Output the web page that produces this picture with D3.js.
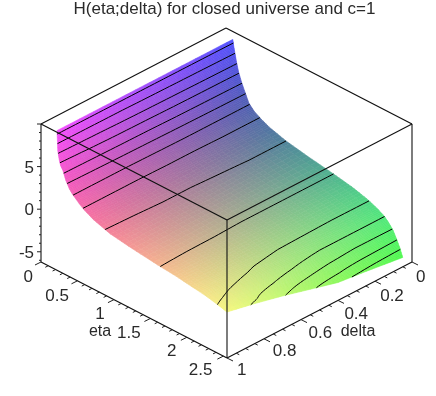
<!DOCTYPE html>
<meta charset="utf-8">
<head>
<style>
body { margin: 0; background: #fff; }
svg { filter: blur(0.35px); }
text { font-family: "Liberation Sans", Arial, sans-serif; fill: #2a2a2a; }
</style>
</head>
<body>
<svg width="436" height="396"></svg>
<script src="https://d3js.org/d3.v7.min.js"></script>
<script>
var title = "H(eta;delta) for closed universe and c=1";

// surface heights, one row per delta
var etas = [.22,.23,.25,.27,.30,.34,.39,.44,.52,.60,.72,.95,1.25,1.6,1.85,2.06,2.2,2.3,2.36,2.42,2.47,2.51,2.55];
var deltas = [.05,.25,.4,.55,.7,.85,1];
var zDelta05 = [10.2,9.6,8.7,7.8,6.7,5.7,4.7,3.7,3.0,2.6,2.1,1.5,1.0,.5,.1,-.4,-.9,-1.4,-1.9,-2.55,-3.4,-4.15,-5.1];
var zDelta25 = [10.2,9.3,8.4,7.6,6.6,5.6,4.6,3.7,3.0,2.6,2.05,1.5,1.0,.5,.1,-.42,-.85,-1.4,-1.9,-2.6,-3.15,-3.9,-4.5];
var zDelta40 = [10.2,9.1,8.2,7.4,6.5,5.5,4.5,3.7,3.0,2.55,2.05,1.45,.95,.5,.1,-.4,-.8,-1.4,-1.75,-2.3,-2.95,-3.3,-4.1];
var zDelta55 = [10.2,8.9,8,7.2,6.3,5.3,4.4,3.65,3.0,2.55,2,1.4,.95,.5,.12,-.38,-.75,-1.2,-1.45,-1.8,-2.35,-2.85,-3.2];
var zDelta70 = [10.2,8.6,7.7,7,6.2,5.2,4.3,3.6,3,2.5,2,1.4,.95,.52,.15,-.25,-.6,-.95,-1.15,-1.4,-1.75,-2,-2.3];
var zDelta85 = [10.2,8.3,7.3,6.7,6.05,5.05,4.2,3.6,3,2.5,1.95,1.35,.9,.52,.25,-.1,-.3,-.6,-.75,-.95,-1.15,-1.25,-1.5];
var zDelta100 = [10.2,7.9,6.9,6.3,5.9,4.9,4.1,3.6,3,2.5,1.95,1.3,.9,.53,.32,.05,-.1,-.25,-.37,-.5,-.6,-.7,-.8];
var zRows = [zDelta05,zDelta25,zDelta40,zDelta55,zDelta70,zDelta85,zDelta100];

var levels = [9.8,8.7,7.6,6.6,5.6,4.6,3.6,2.65,1.5,.5,-.5,-1.4,-2.4,-3.4,-4.3];

var etaTicks = [0,.5,1,1.5,2,2.5];
var deltaTicks = [0,.2,.4,.6,.8,1];
var zTicks = [-5,0,5];

var etaMax = 2.55, zMin = -6.2, zMax = 10;

var svg = d3.select("svg");

// oblique view: every screen position is the sum of three scales
var xEta = d3.scaleLinear().domain([0,etaMax]).range([0,186]);
var yEta = d3.scaleLinear().domain([0,etaMax]).range([0,96]);
var xDelta = d3.scaleLinear().domain([1,0]).range([41,226]);
var yDelta = d3.scaleLinear().domain([1,0]).range([0,-96]);
var yZ = d3.scaleLinear().domain([zMin,zMax]).range([262,124]);

function px(eta,delta) { return xEta(eta)+xDelta(delta); }
function py(eta,delta,z) { return yEta(eta)+yDelta(delta)+yZ(z); }

// height lookup along each row, and across rows
var rowScales = zRows.map(function(row) { return d3.scaleLinear().domain(etas).range(row); });
function height(eta,delta) {
  var across = d3.scaleLinear().domain(deltas).range(rowScales.map(function(s) { return s(eta); }));
  return across(delta);
}

// xyz shading: red follows delta, green follows eta, blue follows height
var red = d3.scaleLinear().domain([deltas[0],1]).range([80,245]);
var grn = d3.scaleLinear().domain([etas[0],etaMax]).range([80,248]);
var blu = d3.scaleLinear().domain([-5.1,10.2]).range([80,255]);
function shade(eta,delta,z) { return d3.rgb(red(delta),grn(eta),blu(z)).formatHex(); }

// drawing mesh, finer than the table
function refine(list,steps) {
  var out = [];
  d3.pairs(list).forEach(function(p) {
    d3.range(steps).forEach(function(k) { out.push(p[0]+(p[1]-p[0])*k/steps); });
  });
  out.push(list[list.length-1]);
  return out;
}
var etaMesh = refine(etas,6), deltaMesh = refine(deltas,6);
var meshIndexEta = d3.scaleLinear().domain(d3.range(etaMesh.length)).range(etaMesh);
var meshIndexDelta = d3.scaleLinear().domain(d3.range(deltaMesh.length)).range(deltaMesh);

var values = [], cells = [];
deltaMesh.forEach(function(delta) {
  etaMesh.forEach(function(eta) { values.push(height(eta,delta)); });
});
d3.range(etaMesh.length-1).forEach(function(i) {
  d3.range(deltaMesh.length-1).forEach(function(j) { cells.push({i:i,j:j}); });
});

var n = etaMesh.length, m = deltaMesh.length;
function corner(i,j) {
  var k = j*n+i;
  return [px(etaMesh[i],deltaMesh[j]), py(etaMesh[i],deltaMesh[j],values[k])];
}
function cellPath(d) {
  return "M"+[corner(d.i,d.j),corner(d.i+1,d.j),corner(d.i+1,d.j+1),corner(d.i,d.j+1)].join("L")+"Z";
}
function cellColor(d) {
  return shade((etaMesh[d.i]+etaMesh[d.i+1])/2,(deltaMesh[d.j]+deltaMesh[d.j+1])/2,
    (values[d.j*n+d.i]+values[d.j*n+d.i+1]+values[(d.j+1)*n+d.i]+values[(d.j+1)*n+d.i+1])/4);
}

svg.append("g").attr("class","surface")
  .selectAll("path").data(cells).enter().append("path")
  .attr("d",cellPath)
  .attr("fill",cellColor)
  .attr("stroke",cellColor)
  .attr("stroke-width",.6);

// contour lines: d3.contours gives closed rings, so cut them where they run along the mesh border
var contourLines = [];
d3.contours().size([n,m]).thresholds(levels)(values).forEach(function(level) {
  level.coordinates.forEach(function(poly) {
    poly.forEach(function(ring) {
      var current = [];
      ring.forEach(function(p) {
        if (p[0]<=0 || p[0]>=n || p[1]<=0 || p[1]>=m) {
          if (current.length>1) contourLines.push(current);
          current = [];
        } else {
          var eta = meshIndexEta(p[0]-.5), delta = meshIndexDelta(p[1]-.5);
          current.push([px(eta,delta),py(eta,delta,level.value)]);
        }
      });
      if (current.length>1) contourLines.push(current);
    });
  });
});
svg.append("g").attr("class","contours")
  .selectAll("path").data(contourLines).enter().append("path")
  .attr("d",d3.line())
  .attr("fill","none")
  .attr("stroke","#000")
  .attr("stroke-width",1);

// box
var boxEdges = [
  [[0,1,zMin],[etaMax,1,zMin]],
  [[etaMax,1,zMin],[etaMax,0,zMin]],
  [[0,1,zMin],[0,1,zMax]],
  [[etaMax,1,zMin],[etaMax,1,zMax]],
  [[etaMax,0,zMin],[etaMax,0,zMax]],
  [[0,1,zMax],[etaMax,1,zMax]],
  [[etaMax,1,zMax],[etaMax,0,zMax]],
  [[etaMax,0,zMax],[0,0,zMax]],
  [[0,0,zMax],[0,1,zMax]]
];
svg.append("g").attr("class","box")
  .selectAll("line").data(boxEdges).enter().append("line")
  .attr("x1",function(d) { return px(d[0][0],d[0][1]); })
  .attr("y1",function(d) { return py(d[0][0],d[0][1],d[0][2]); })
  .attr("x2",function(d) { return px(d[1][0],d[1][1]); })
  .attr("y2",function(d) { return py(d[1][0],d[1][1],d[1][2]); })
  .attr("stroke","#111")
  .attr("stroke-width",1.1);

// ticks
var ticks = svg.append("g").attr("class","ticks").attr("stroke","#222");
d3.range(-6,11).forEach(function(z) {
  var major = z%5===0;
  ticks.append("line")
    .attr("x1",px(0,1)).attr("x2",px(0,1)-(major?4:2))
    .attr("y1",py(0,1,z)).attr("y2",py(0,1,z));
});
d3.range(0,26).forEach(function(k) {
  var eta = k/10, major = k%5===0, x = px(eta,1), y = py(eta,1,zMin);
  ticks.append("line")
    .attr("x1",x).attr("y1",y)
    .attr("x2",x-(major?6:3)).attr("y2",y+(major?3:1.5));
});
d3.range(0,21).forEach(function(k) {
  var delta = k/20, major = k%4===0, x = px(etaMax,delta), y = py(etaMax,delta,zMin);
  ticks.append("line")
    .attr("x1",x).attr("y1",y)
    .attr("x2",x+(major?6:3)).attr("y2",y+(major?3:1.5));
});

// labels
var fontSize = 17;
var etaDx = d3.scaleLinear().domain([0,2.5]).range([-8,-11]);
var etaDy = d3.scaleLinear().domain([0,2.5]).range([20,18.5]);
var deltaDx = d3.scaleLinear().domain([0,1]).range([4,10]);
var deltaDy = d3.scaleLinear().domain([0,1]).range([20,17]);

svg.append("text").attr("x",224.5).attr("y",14).attr("text-anchor","middle")
  .attr("font-size",fontSize).text(title);

svg.append("g").selectAll("text").data(zTicks).enter().append("text")
  .attr("x",34).attr("y",function(d) { return py(0,1,d)+6; })
  .attr("text-anchor","end").attr("font-size",fontSize)
  .text(function(d) { return d; });

svg.append("g").selectAll("text").data(etaTicks).enter().append("text")
  .attr("x",function(d) { return px(d,1)+etaDx(d); })
  .attr("y",function(d) { return py(d,1,zMin)+etaDy(d); })
  .attr("text-anchor","end").attr("font-size",fontSize)
  .text(function(d) { return d; });

svg.append("g").selectAll("text").data(deltaTicks).enter().append("text")
  .attr("x",function(d) { return px(etaMax,d)+deltaDx(d); })
  .attr("y",function(d) { return py(etaMax,d,zMin)+deltaDy(d); })
  .attr("text-anchor","start").attr("font-size",fontSize)
  .text(function(d) { return d; });

svg.append("text").attr("x",100).attr("y",336).attr("text-anchor","middle")
  .attr("font-size",16).text("eta");
svg.append("text").attr("x",358).attr("y",336).attr("text-anchor","middle")
  .attr("font-size",16).text("delta");
</script>
</body>
